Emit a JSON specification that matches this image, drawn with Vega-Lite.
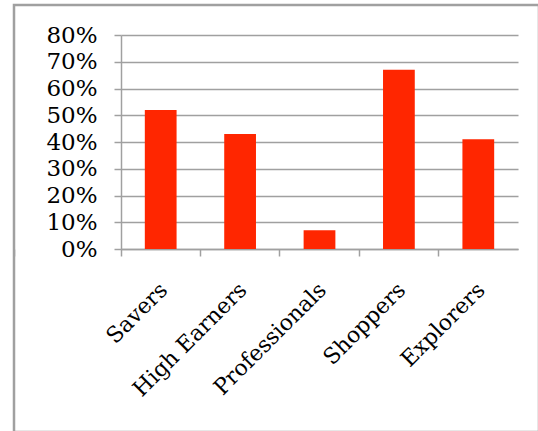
{
  "$schema": "https://vega.github.io/schema/vega-lite/v6.json",
  "width": 525,
  "height": 427,
  "autosize": {"type": "none"},
  "padding": {"left": 14, "top": 5, "right": 0, "bottom": 0},
  "background": "white",
  "config": {
    "view": {"stroke": "#a0a0a0", "strokeWidth": 2.5},
    "axis": {"labelFont": "DejaVu Serif", "labelColor": "black"}
  },
  "data": {
    "values": [
      {"segment": "Savers", "share": 0.52},
      {"segment": "High Earners", "share": 0.43},
      {"segment": "Professionals", "share": 0.07},
      {"segment": "Shoppers", "share": 0.67},
      {"segment": "Explorers", "share": 0.41}
    ]
  },
  "mark": {"type": "bar", "color": "#ff2600", "width": {"band": 0.4}},
  "encoding": {
    "x": {
      "field": "segment",
      "type": "nominal",
      "sort": null,
      "title": null,
      "scale": {"range": [107, 504], "paddingInner": 0, "paddingOuter": 0},
      "axis": {
        "orient": "bottom",
        "offset": -183,
        "bandPosition": 0,
        "tickExtra": true,
        "labelOffset": 3,
        "labelAngle": -45,
        "labelAlign": "right",
        "labelBaseline": "middle",
        "labelFontSize": 22,
        "labelPadding": 30,
        "domainColor": "#a0a0a0",
        "domainWidth": 1.5,
        "tickColor": "#a0a0a0",
        "tickWidth": 1.5,
        "tickSize": 7,
        "grid": false
      }
    },
    "y": {
      "field": "share",
      "type": "quantitative",
      "title": null,
      "scale": {"domain": [0, 0.8], "range": [244, 30], "nice": false, "zero": true},
      "axis": {
        "orient": "left",
        "offset": -107,
        "values": [0, 0.1, 0.2, 0.3, 0.4, 0.5, 0.6, 0.7, 0.8],
        "format": ".0%",
        "labelFontSize": 23,
        "labelPadding": 17,
        "domainColor": "#a0a0a0",
        "domainWidth": 1.5,
        "tickColor": "#a0a0a0",
        "tickWidth": 1.5,
        "tickSize": 7,
        "grid": true,
        "gridColor": "#a0a0a0",
        "gridWidth": 1.5
      }
    }
  }
}
